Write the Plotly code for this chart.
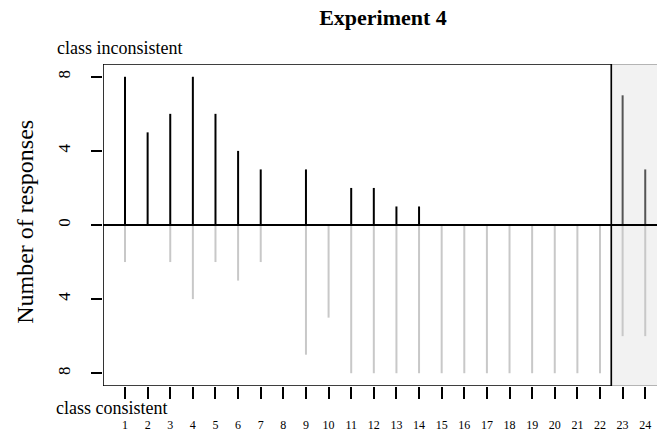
import plotly.graph_objects as go

positions = list(range(1, 25))
inconsistent = [8, 5, 6, 8, 6, 4, 3, 0, 3, 0, 2, 2, 1, 1, 0, 0, 0, 0, 0, 0, 0, 0, 7, 3]
consistent = [2, 0, 2, 4, 2, 3, 2, 0, 7, 5, 8, 8, 8, 8, 8, 8, 8, 8, 8, 8, 8, 8, 6, 6]
y_tick_vals = [-8, -4, 0, 4, 8]
y_tick_text = ["8", "4", "0", "4", "8"]
n_main = 22

FONT = "Liberation Serif"
XMIN, XMAX = 0.027, 24.52
YMIN, YMAX = -8.69, 8.69


def segs(xs, ys, sign):
    sx, sy = [], []
    for x, y in zip(xs, ys):
        if y == 0:
            continue
        sx += [x, x, None]
        sy += [0, sign * y, None]
    return sx, sy


fig = go.Figure()

cx, cy = segs(positions, consistent, -1)
fig.add_trace(go.Scatter(x=cx, y=cy, mode="lines",
                         line=dict(color="#c8c8c8", width=2), hoverinfo="skip"))
ix, iy = segs(positions[:n_main], inconsistent[:n_main], 1)
fig.add_trace(go.Scatter(x=ix, y=iy, mode="lines",
                         line=dict(color="black", width=2), hoverinfo="skip"))
ex, ey = segs(positions[n_main:], inconsistent[n_main:], 1)
fig.add_trace(go.Scatter(x=ex, y=ey, mode="lines",
                         line=dict(color="#555555", width=2), hoverinfo="skip"))

shapes = [
    dict(type="rect", xref="x", yref="y", x0=n_main + 0.5, x1=XMAX + 1, y0=YMIN, y1=YMAX,
         fillcolor="#f2f2f2", line=dict(color="#777777", width=1), layer="below"),
    dict(type="rect", xref="x", yref="y", x0=XMIN, x1=n_main + 0.5, y0=YMIN, y1=YMAX,
         fillcolor="rgba(0,0,0,0)", line=dict(color="black", width=1.6), layer="above"),
    dict(type="line", xref="x", yref="y", x0=XMIN, x1=XMAX + 1, y0=0, y1=0,
         line=dict(color="black", width=2), layer="above"),
]

fig.update_layout(
    width=657, height=432,
    margin=dict(l=103, r=0, t=64, b=46, autoexpand=False),
    paper_bgcolor="white", plot_bgcolor="white",
    showlegend=False,
    shapes=shapes,
    title=dict(text="<b>Experiment 4</b>", x=383 / 657, xref="container", xanchor="center",
               y=1 - 17 / 432, yref="container", yanchor="middle", automargin=False,
               font=dict(family=FONT, size=22, color="black")),
    xaxis=dict(range=[XMIN, XMAX], tickvals=positions, ticktext=[str(p) for p in positions],
               ticks="outside", ticklen=12, tickwidth=1.6, tickcolor="black",
               showgrid=False, zeroline=False, showline=False, automargin=False,
               tickfont=dict(family=FONT, size=12, color="black"),
               ticklabelstandoff=16, fixedrange=True),
    yaxis=dict(range=[YMIN, YMAX], tickvals=y_tick_vals, ticktext=y_tick_text,
               ticks="outside", ticklen=11, tickwidth=1.6, tickcolor="black",
               tickangle=-90, showgrid=False, zeroline=False, showline=False, automargin=False,
               tickfont=dict(family=FONT, size=17, color="black"),
               ticklabelstandoff=14, fixedrange=True),
    annotations=[
        dict(text="Number of responses", xref="paper", yref="paper", x=(25 - 103) / 554, y=0.51,
             textangle=-90, showarrow=False, xanchor="center", yanchor="middle",
             font=dict(family=FONT, size=24, color="black")),
        dict(text="class inconsistent", xref="paper", yref="paper", x=(55 - 103) / 554,
             y=(386 - 48) / 322, showarrow=False, xanchor="left", yanchor="middle",
             font=dict(family=FONT, size=18, color="black")),
        dict(text="class consistent", xref="paper", yref="paper", x=(54 - 103) / 554,
             y=(386 - 408) / 322, showarrow=False, xanchor="left", yanchor="middle",
             font=dict(family=FONT, size=18, color="black")),
    ],
)

fig.write_html("out.html", config={"displayModeBar": False},
               post_script="document.body.style.margin='0';document.body.style.overflow='hidden';")
